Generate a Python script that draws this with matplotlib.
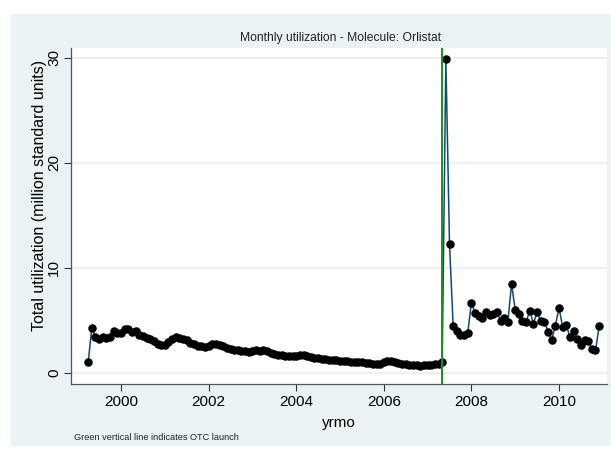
import matplotlib.pyplot as plt
import matplotlib.patches as patches
import numpy as np

plt.rcParams['font.family'] = ['Liberation Sans', 'DejaVu Sans']

# monthly utilization, Apr 1999 - Dec 2010 (million standard units)
u1999 = [1.0, 4.3, 3.4, 3.25, 3.4, 3.3, 3.45, 4.0, 3.85]
u2000 = [3.8, 4.2, 4.15, 3.95, 4.0, 3.65, 3.5, 3.3, 3.2, 3.0, 2.8, 2.7]
u2001 = [2.7, 2.95, 3.2, 3.45, 3.3, 3.2, 3.1, 2.9, 2.75, 2.6, 2.55, 2.5]
u2002 = [2.6, 2.75, 2.8, 2.65, 2.55, 2.4, 2.25, 2.2, 2.15, 2.1, 2.05, 2.0]
u2003 = [2.1, 2.15, 2.1, 2.15, 2.05, 1.95, 1.85, 1.75, 1.7, 1.65, 1.6, 1.6]
u2004 = [1.65, 1.75, 1.7, 1.6, 1.5, 1.45, 1.4, 1.3, 1.3, 1.25, 1.2, 1.2]
u2005 = [1.15, 1.15, 1.1, 1.05, 1.05, 1.0, 1.0, 0.95, 0.95, 0.9, 0.9, 0.9]
u2006 = [1.0, 1.15, 1.1, 1.0, 0.95, 0.9, 0.85, 0.8, 0.8, 0.75, 0.7, 0.75]
u2007 = [0.75, 0.8, 0.85, 0.9, 1.0, 29.9, 12.3, 4.5, 4.0, 3.6, 3.6, 3.85]
u2008 = [6.7, 5.7, 5.4, 5.25, 5.8, 5.5, 5.6, 5.8, 4.95, 5.25, 4.9, 8.5]
u2009 = [6.0, 5.6, 4.95, 4.9, 5.9, 4.7, 5.8, 4.95, 4.9, 3.95, 3.15, 4.5]
u2010 = [6.2, 4.4, 4.6, 3.4, 4.0, 3.2, 2.7, 3.1, 3.0, 2.3, 2.15, 4.45]

util = (u1999 + u2000 + u2001 + u2002 + u2003 + u2004 + u2005 + u2006
        + u2007 + u2008 + u2009 + u2010)
start = 1999 + 3 / 12
yrmo = start + np.arange(len(util)) / 12
otc_launch = 2007 + 4 / 12

fig = plt.figure(figsize=(6.11, 4.51), dpi=100)
fig.patch.set_facecolor('white')
# light graph region behind the plot
fig.patches.append(patches.Rectangle((11 / 611, 1 - 446 / 451), 600 / 611, 432 / 451,
                                     transform=fig.transFigure, facecolor='#eaf2f3',
                                     edgecolor='none', zorder=-5))

ax = fig.add_axes([71 / 611, 1 - 384 / 451, 536 / 611, 336 / 451])
ax.set_facecolor('white')

for v in [0, 10, 20, 30]:
    ax.axhline(v, color='#eaf2f3', lw=1.6, zorder=1)

ax.plot(yrmo, util, color='#1a476f', lw=1.1, zorder=3)
ax.scatter(yrmo, util, s=26, color='black', zorder=4)
ax.axvline(otc_launch, color='#1a8c2a', lw=1.4, zorder=5)

ax.set_xlim(1998.858, 2011.096)
ax.set_ylim(-1.05, 30.95)
ax.set_xticks([2000, 2002, 2004, 2006, 2008, 2010])
ax.set_yticks([0, 10, 20, 30])
ax.tick_params(axis='both', colors='#333333', labelcolor='black', labelsize=11,
               length=5, width=0.8)
ax.tick_params(axis='x', pad=3)
ax.tick_params(axis='y', pad=2)
for lab in ax.get_yticklabels():
    lab.set_rotation(90)
    lab.set_va('center')

for side in ['top', 'right']:
    ax.spines[side].set_visible(False)
for side in ['left', 'bottom']:
    ax.spines[side].set_color('#555555')
    ax.spines[side].set_linewidth(0.9)

ax.set_xlabel('yrmo', fontsize=11, labelpad=5)
ax.set_ylabel('Total utilization (million standard units)', fontsize=11.5)
ax.yaxis.set_label_coords(-24 / 536, 0.56)

fig.text(341 / 611, 1 - 38 / 451, 'Monthly utilization - Molecule: Orlistat',
         ha='center', va='center', fontsize=8.7, color='#222222')
fig.text(74 / 611, 1 - 437 / 451, 'Green vertical line indicates OTC launch',
         ha='left', va='center', fontsize=6.6, color='#222222')

fig.savefig('out.png', dpi=100, facecolor=fig.get_facecolor())
